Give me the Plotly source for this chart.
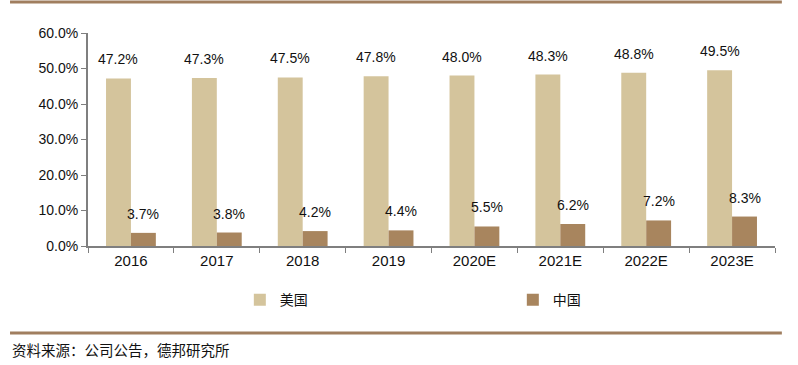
import plotly.graph_objects as go

categories = ["2016", "2017", "2018", "2019", "2020E", "2021E", "2022E", "2023E"]
usa = [47.2, 47.3, 47.5, 47.8, 48.0, 48.3, 48.8, 49.5]
china = [3.7, 3.8, 4.2, 4.4, 5.5, 6.2, 7.2, 8.3]
series_names = ["美国", "中国"]
source_text = "资料来源：公司公告，德邦研究所"

US_COLOR = "#D4C49C"
CN_COLOR = "#A8855E"
RULE = "#A07E5F"
CJK = "Noto Sans CJK SC"
LAT = "Liberation Sans, Arial"

fig = go.Figure()
fig.add_bar(x=categories, y=usa, name=series_names[0], marker_color=US_COLOR,
            marker_line_width=0)
fig.add_bar(x=categories, y=china, name=series_names[1], marker_color=CN_COLOR,
            marker_line_width=0)

ann = []
for i, c in enumerate(categories):
    ann.append(dict(x=i, y=usa[i], text=f"{usa[i]:.1f}%", xref="x", yref="y",
                    showarrow=False, xshift=-12.5, yshift=9, yanchor="bottom",
                    font=dict(family=LAT, size=14, color="#111")))
    ann.append(dict(x=i, y=china[i], text=f"{china[i]:.1f}%", xref="x", yref="y",
                    showarrow=False, xshift=12.5, yshift=9, yanchor="bottom",
                    font=dict(family=LAT, size=14, color="#111")))
ann.append(dict(x=-0.1135, y=-0.488, xref="paper", yref="paper", text=source_text,
                showarrow=False, xanchor="left", yanchor="middle",
                font=dict(family=CJK, size=14.5, color="#111")))

fig.update_layout(
    width=798, height=365,
    margin=dict(l=88, r=23, t=33, b=119),
    paper_bgcolor="white", plot_bgcolor="white",
    barmode="group", bargap=0.42, bargroupgap=0,
    showlegend=True,
    legend=dict(orientation="h", x=0.221, y=-0.254, xanchor="left", yanchor="middle",
                entrywidth=228, entrywidthmode="pixels",
                font=dict(family=CJK, size=14, color="#111"),
                itemwidth=30, tracegroupgap=0),
    annotations=ann,
    shapes=[
        dict(type="line", xref="paper", yref="paper", x0=-0.1135, x1=1.010,
             y0=1.1455, y1=1.1455, line=dict(color=RULE, width=3)),
        dict(type="line", xref="paper", yref="paper", x0=-0.1135, x1=1.010,
             y0=-0.408, y1=-0.408, line=dict(color=RULE, width=3)),
    ],
    xaxis=dict(type="category", range=[-0.5, 7.5], showline=True, linecolor="#7f7f7f",
               linewidth=2, ticks="outside", tickson="boundaries", ticklen=5,
               tickcolor="#7f7f7f", tickangle=0,
               tickfont=dict(family=LAT, size=15, color="#111"), showgrid=False),
    yaxis=dict(range=[0, 60], dtick=10, tickformat=".1f", ticksuffix="%",
               showline=True, linecolor="#7f7f7f", linewidth=2,
               ticks="outside", ticklen=5, tickcolor="#7f7f7f",
               tickfont=dict(family=LAT, size=14, color="#111"),
               showgrid=False, zeroline=False),
)

fig.write_html("out.html", config={"displayModeBar": False},
               post_script="document.body.style.margin='0';")
